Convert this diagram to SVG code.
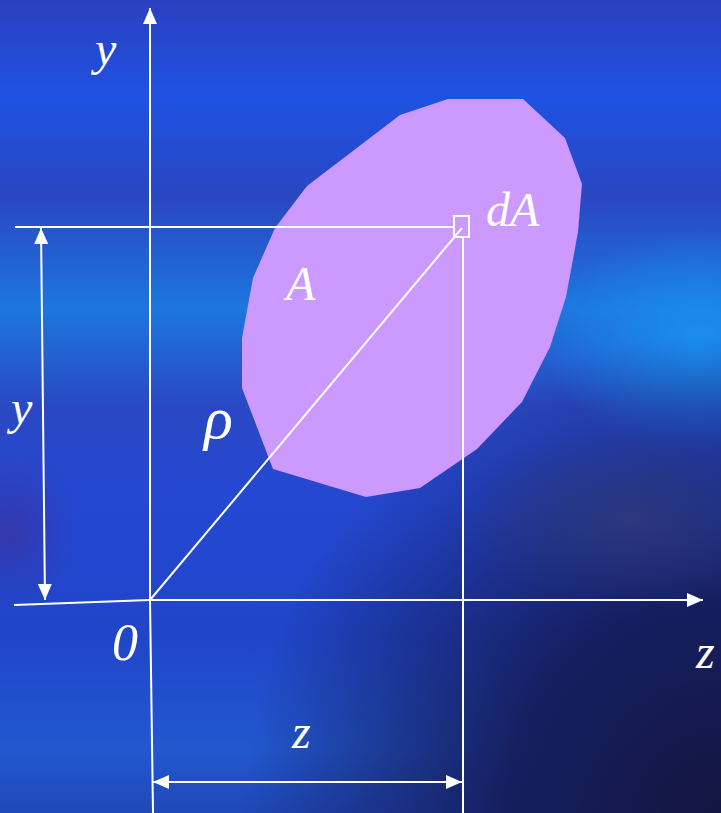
<svg xmlns="http://www.w3.org/2000/svg" width="721" height="813" viewBox="0 0 721 813">
  <defs>
    <linearGradient id="bg" x1="0" y1="0" x2="0" y2="1">
      <stop offset="0" stop-color="#2b40c0"/>
      <stop offset="0.12" stop-color="#1e52e2"/>
      <stop offset="0.24" stop-color="#2a46c2"/>
      <stop offset="0.38" stop-color="#1d76dd"/>
      <stop offset="0.5" stop-color="#2a48c4"/>
      <stop offset="0.62" stop-color="#2448d2"/>
      <stop offset="0.78" stop-color="#2045c8"/>
      <stop offset="0.92" stop-color="#2258d0"/>
      <stop offset="1" stop-color="#2048b8"/>
    </linearGradient>
    <radialGradient id="dark" cx="721" cy="813" r="480" gradientUnits="userSpaceOnUse">
      <stop offset="0" stop-color="#131540" stop-opacity="1"/>
      <stop offset="0.45" stop-color="#141a55" stop-opacity="0.9"/>
      <stop offset="1" stop-color="#141a55" stop-opacity="0"/>
    </radialGradient>
    <radialGradient id="cyan" cx="0.5" cy="0.5" r="0.5">
      <stop offset="0" stop-color="#1a8eef" stop-opacity="1"/>
      <stop offset="1" stop-color="#1a8eef" stop-opacity="0"/>
    </radialGradient>
    <radialGradient id="purp" cx="0.5" cy="0.5" r="0.5">
      <stop offset="0" stop-color="#2e3a7c" stop-opacity="0.85"/>
      <stop offset="1" stop-color="#2e3a7c" stop-opacity="0"/>
    </radialGradient>
    <radialGradient id="lpurp" cx="0.5" cy="0.5" r="0.5">
      <stop offset="0" stop-color="#3636a8" stop-opacity="0.9"/>
      <stop offset="1" stop-color="#3636a8" stop-opacity="0"/>
    </radialGradient>
    <marker id="ah" viewBox="0 0 16 14" refX="16" refY="7" markerWidth="16" markerHeight="14" markerUnits="userSpaceOnUse" orient="auto-start-reverse">
      <path d="M0,0 L16,7 L0,14 Z" fill="#ffffff"/>
    </marker>
    <style>
      .ln { stroke: #ffffff; stroke-width: 2; fill: none; }
      .lbl { font-family: "Liberation Serif", "Times New Roman", serif; font-style: italic; font-size: 48px; fill: #ffffff; }
    </style>
  </defs>

  <g id="background">
    <rect x="0" y="0" width="721" height="813" fill="url(#bg)"/>
    <ellipse cx="700" cy="340" rx="160" ry="110" fill="url(#cyan)"/>
    <rect x="0" y="0" width="721" height="813" fill="url(#dark)"/>
    <ellipse cx="630" cy="520" rx="170" ry="90" fill="url(#purp)"/>
    <ellipse cx="10" cy="530" rx="70" ry="80" fill="url(#lpurp)"/>
  </g>

  <g id="area-A">
    <polygon points="448,99 523,99 565,138 582,184 578,232 566,297 550,347 522,402 477,449 420,488 366,497 273,469 242,388 242,338 253,278 275,228 307,186 400,115" fill="#cc99ff"/>
    <text class="lbl" x="286" y="300">A</text>
  </g>

  <g id="element-dA">
    <rect x="454" y="216" width="15" height="21" class="ln"/>
    <text class="lbl" x="486" y="226">dA</text>
  </g>

  <g id="connectors">
    <line x1="150" y1="600" x2="150" y2="8" class="ln" marker-end="url(#ah)"/>
    <line x1="150" y1="600" x2="153" y2="813" class="ln"/>
    <line x1="150" y1="600" x2="703" y2="600" class="ln" marker-end="url(#ah)"/>
    <line x1="14" y1="605" x2="150" y2="600" class="ln"/>
    <line x1="15" y1="227" x2="454" y2="227" class="ln"/>
    <line x1="463" y1="237" x2="463" y2="813" class="ln"/>
    <line x1="150" y1="600" x2="462" y2="228" class="ln"/>
    <line x1="43" y1="413" x2="41" y2="228" class="ln" marker-end="url(#ah)"/>
    <line x1="43" y1="413" x2="45" y2="600" class="ln" marker-end="url(#ah)"/>
    <line x1="307" y1="782" x2="153" y2="782" class="ln" marker-end="url(#ah)"/>
    <line x1="307" y1="782" x2="462" y2="782" class="ln" marker-end="url(#ah)"/>
  </g>

  <g id="labels">
    <text class="lbl" x="95" y="65">y</text>
    <text class="lbl" x="11" y="424">y</text>
    <text class="lbl" x="204" y="438" style="font-size:60px">ρ</text>
    <text class="lbl" x="112" y="660" style="font-size:52px">0</text>
    <text class="lbl" x="696" y="668">z</text>
    <text class="lbl" x="292" y="748">z</text>
  </g>
</svg>
